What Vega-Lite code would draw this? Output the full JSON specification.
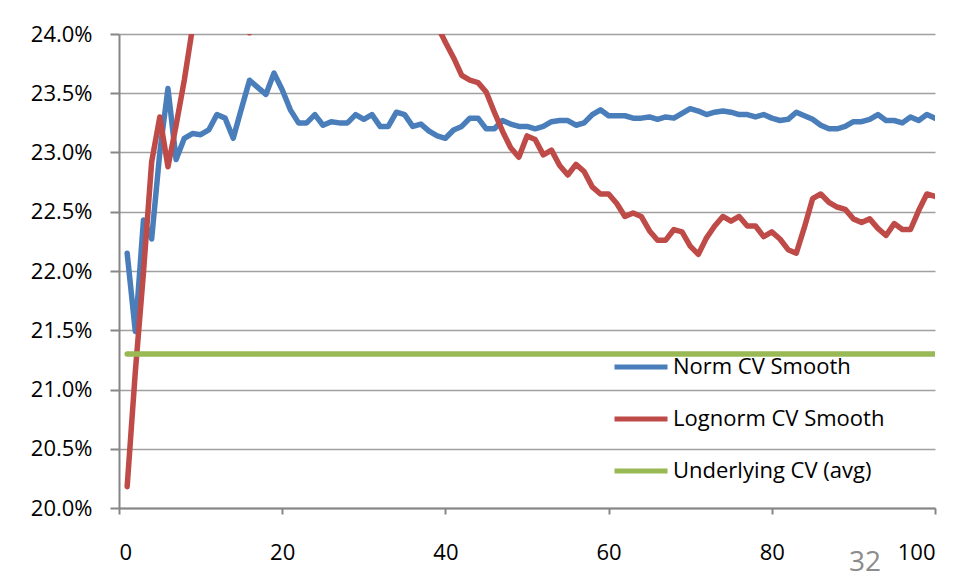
{
  "$schema": "https://vega.github.io/schema/vega-lite/v6.json",
  "autosize": {"type": "none"},
  "padding": {"left": 119, "top": 34, "right": 25, "bottom": 71},
  "width": 816,
  "height": 474,
  "background": "white",
  "title": {"text": "32", "orient": "bottom", "anchor": "end", "font": "Open Sans", "fontSize": 28, "fontWeight": "normal", "color": "#8c8c8c", "dx": -55, "offset": -14},
  "data": {"values": [
    {"x":1,"n":0.2215,"l":0.2018,"u":0.213},
    {"x":2,"n":0.2149,"l":0.2115,"u":0.213},
    {"x":3,"n":0.2243,"l":0.2199,"u":0.213},
    {"x":4,"n":0.2227,"l":0.2292,"u":0.213},
    {"x":5,"n":0.2300,"l":0.2330,"u":0.213},
    {"x":6,"n":0.2354,"l":0.2288,"u":0.213},
    {"x":7,"n":0.2294,"l":0.2323,"u":0.213},
    {"x":8,"n":0.2312,"l":0.2361,"u":0.213},
    {"x":9,"n":0.2316,"l":0.2405,"u":0.213},
    {"x":10,"n":0.2315,"l":0.2460,"u":0.213},
    {"x":11,"n":0.2319,"l":0.2490,"u":0.213},
    {"x":12,"n":0.2332,"l":0.2500,"u":0.213},
    {"x":13,"n":0.2329,"l":0.2480,"u":0.213},
    {"x":14,"n":0.2312,"l":0.2460,"u":0.213},
    {"x":15,"n":0.2337,"l":0.2430,"u":0.213},
    {"x":16,"n":0.2361,"l":0.2401,"u":0.213},
    {"x":17,"n":0.2355,"l":0.2430,"u":0.213},
    {"x":18,"n":0.2349,"l":0.2460,"u":0.213},
    {"x":19,"n":0.2367,"l":0.2490,"u":0.213},
    {"x":20,"n":0.2353,"l":0.2500,"u":0.213},
    {"x":21,"n":0.2336,"l":0.2510,"u":0.213},
    {"x":22,"n":0.2325,"l":0.2520,"u":0.213},
    {"x":23,"n":0.2325,"l":0.2515,"u":0.213},
    {"x":24,"n":0.2332,"l":0.2510,"u":0.213},
    {"x":25,"n":0.2323,"l":0.2505,"u":0.213},
    {"x":26,"n":0.2326,"l":0.2500,"u":0.213},
    {"x":27,"n":0.2325,"l":0.2495,"u":0.213},
    {"x":28,"n":0.2325,"l":0.2490,"u":0.213},
    {"x":29,"n":0.2332,"l":0.2485,"u":0.213},
    {"x":30,"n":0.2328,"l":0.2480,"u":0.213},
    {"x":31,"n":0.2332,"l":0.2475,"u":0.213},
    {"x":32,"n":0.2322,"l":0.2470,"u":0.213},
    {"x":33,"n":0.2322,"l":0.2462,"u":0.213},
    {"x":34,"n":0.2334,"l":0.2455,"u":0.213},
    {"x":35,"n":0.2332,"l":0.2445,"u":0.213},
    {"x":36,"n":0.2322,"l":0.2435,"u":0.213},
    {"x":37,"n":0.2324,"l":0.2425,"u":0.213},
    {"x":38,"n":0.2318,"l":0.2415,"u":0.213},
    {"x":39,"n":0.2314,"l":0.2407,"u":0.213},
    {"x":40,"n":0.2312,"l":0.2393,"u":0.213},
    {"x":41,"n":0.2319,"l":0.2380,"u":0.213},
    {"x":42,"n":0.2322,"l":0.2365,"u":0.213},
    {"x":43,"n":0.2329,"l":0.2361,"u":0.213},
    {"x":44,"n":0.2329,"l":0.2359,"u":0.213},
    {"x":45,"n":0.2320,"l":0.2351,"u":0.213},
    {"x":46,"n":0.2320,"l":0.2334,"u":0.213},
    {"x":47,"n":0.2327,"l":0.2318,"u":0.213},
    {"x":48,"n":0.2324,"l":0.2304,"u":0.213},
    {"x":49,"n":0.2322,"l":0.2296,"u":0.213},
    {"x":50,"n":0.2322,"l":0.2314,"u":0.213},
    {"x":51,"n":0.2320,"l":0.2311,"u":0.213},
    {"x":52,"n":0.2322,"l":0.2298,"u":0.213},
    {"x":53,"n":0.2326,"l":0.2302,"u":0.213},
    {"x":54,"n":0.2327,"l":0.2289,"u":0.213},
    {"x":55,"n":0.2327,"l":0.2281,"u":0.213},
    {"x":56,"n":0.2323,"l":0.2290,"u":0.213},
    {"x":57,"n":0.2325,"l":0.2284,"u":0.213},
    {"x":58,"n":0.2332,"l":0.2271,"u":0.213},
    {"x":59,"n":0.2336,"l":0.2265,"u":0.213},
    {"x":60,"n":0.2331,"l":0.2265,"u":0.213},
    {"x":61,"n":0.2331,"l":0.2257,"u":0.213},
    {"x":62,"n":0.2331,"l":0.2246,"u":0.213},
    {"x":63,"n":0.2329,"l":0.2249,"u":0.213},
    {"x":64,"n":0.2329,"l":0.2246,"u":0.213},
    {"x":65,"n":0.2330,"l":0.2234,"u":0.213},
    {"x":66,"n":0.2328,"l":0.2226,"u":0.213},
    {"x":67,"n":0.2330,"l":0.2226,"u":0.213},
    {"x":68,"n":0.2329,"l":0.2235,"u":0.213},
    {"x":69,"n":0.2333,"l":0.2233,"u":0.213},
    {"x":70,"n":0.2337,"l":0.2221,"u":0.213},
    {"x":71,"n":0.2335,"l":0.2214,"u":0.213},
    {"x":72,"n":0.2332,"l":0.2228,"u":0.213},
    {"x":73,"n":0.2334,"l":0.2238,"u":0.213},
    {"x":74,"n":0.2335,"l":0.2246,"u":0.213},
    {"x":75,"n":0.2334,"l":0.2242,"u":0.213},
    {"x":76,"n":0.2332,"l":0.2246,"u":0.213},
    {"x":77,"n":0.2332,"l":0.2238,"u":0.213},
    {"x":78,"n":0.2330,"l":0.2238,"u":0.213},
    {"x":79,"n":0.2332,"l":0.2229,"u":0.213},
    {"x":80,"n":0.2329,"l":0.2233,"u":0.213},
    {"x":81,"n":0.2327,"l":0.2227,"u":0.213},
    {"x":82,"n":0.2328,"l":0.2218,"u":0.213},
    {"x":83,"n":0.2334,"l":0.2215,"u":0.213},
    {"x":84,"n":0.2331,"l":0.2237,"u":0.213},
    {"x":85,"n":0.2328,"l":0.2261,"u":0.213},
    {"x":86,"n":0.2323,"l":0.2265,"u":0.213},
    {"x":87,"n":0.2320,"l":0.2258,"u":0.213},
    {"x":88,"n":0.2320,"l":0.2254,"u":0.213},
    {"x":89,"n":0.2322,"l":0.2252,"u":0.213},
    {"x":90,"n":0.2326,"l":0.2244,"u":0.213},
    {"x":91,"n":0.2326,"l":0.2241,"u":0.213},
    {"x":92,"n":0.2328,"l":0.2244,"u":0.213},
    {"x":93,"n":0.2332,"l":0.2236,"u":0.213},
    {"x":94,"n":0.2327,"l":0.2230,"u":0.213},
    {"x":95,"n":0.2327,"l":0.2240,"u":0.213},
    {"x":96,"n":0.2325,"l":0.2235,"u":0.213},
    {"x":97,"n":0.2330,"l":0.2235,"u":0.213},
    {"x":98,"n":0.2327,"l":0.2251,"u":0.213},
    {"x":99,"n":0.2332,"l":0.2265,"u":0.213},
    {"x":100,"n":0.2329,"l":0.2263,"u":0.213}
  ]},
  "transform": [
    {"fold": ["n", "l", "u"], "as": ["key", "value"]},
    {"lookup": "key", "from": {"data": {"values": [
      {"key": "n", "series": "Norm CV Smooth"},
      {"key": "l", "series": "Lognorm CV Smooth"},
      {"key": "u", "series": "Underlying CV (avg)"}
    ]}, "key": "key", "fields": ["series"]}}
  ],
  "mark": {"type": "line", "strokeWidth": 5.5, "strokeCap": "round", "strokeJoin": "round", "clip": true},
  "encoding": {
    "x": {"field": "x", "type": "quantitative", "scale": {"domain": [0, 100], "nice": false},
      "axis": {"values": [0, 20, 40, 60, 80, 100], "title": null, "grid": false, "tickSize": 6, "labelPadding": 28}},
    "y": {"field": "value", "type": "quantitative", "scale": {"domain": [0.2, 0.24], "nice": false, "zero": false},
      "axis": {"values": [0.2, 0.205, 0.21, 0.215, 0.22, 0.225, 0.23, 0.235, 0.24], "format": ".1%", "title": null, "grid": true, "tickSize": 9, "labelPadding": 18}},
    "color": {"field": "series", "type": "nominal",
      "scale": {"domain": ["Norm CV Smooth", "Lognorm CV Smooth", "Underlying CV (avg)"], "range": ["#4a7ebb", "#be4b48", "#98b954"]},
      "legend": {"orient": "none", "legendX": 493, "legendY": 304, "title": null, "symbolType": "stroke", "symbolSize": 2809, "symbolStrokeWidth": 5, "labelOffset": 3, "rowPadding": 12, "padding": 0, "labelFont": "Open Sans", "labelFontSize": 22, "labelColor": "#000000", "labelLimit": 400}}
  },
  "config": {
    "view": {"stroke": null},
    "axis": {"labelFont": "Open Sans", "labelFontSize": 22, "labelColor": "#000000", "domainColor": "#868686", "domainWidth": 2, "tickColor": "#868686", "tickWidth": 2, "gridColor": "#a0a0a0", "gridWidth": 1.5}
  }
}
